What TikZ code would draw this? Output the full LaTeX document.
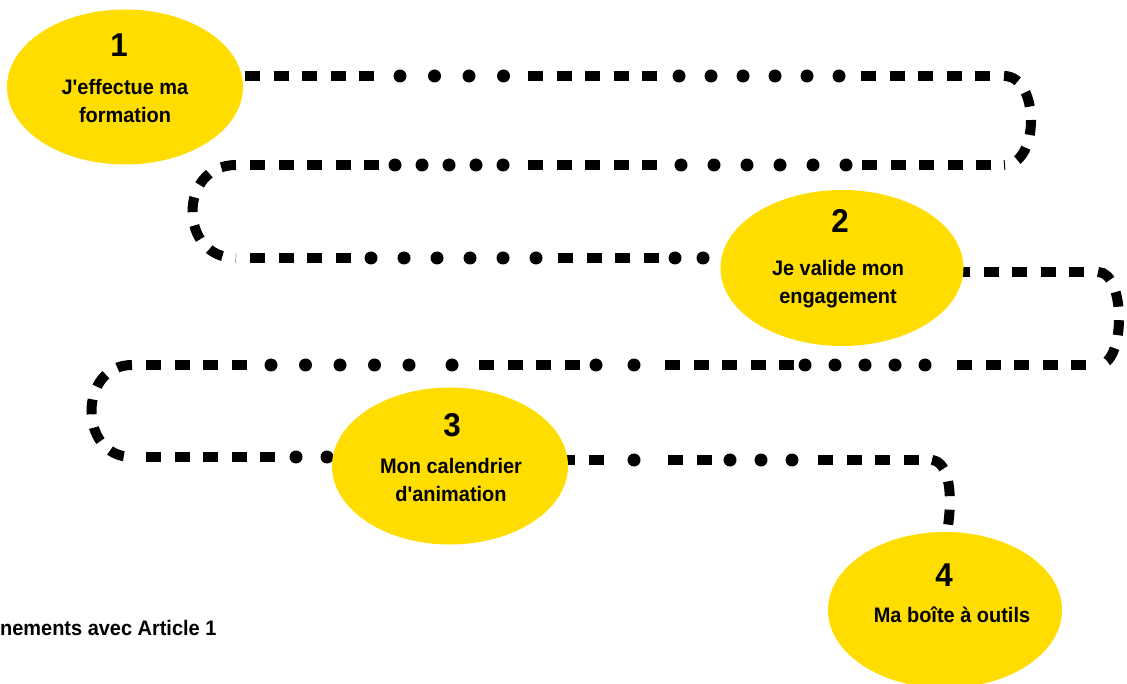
\documentclass[tikz,border=0pt]{standalone}
\usepackage{fontspec}
\setmainfont[FakeStretch=0.95,Ligatures=TeXOff]{Liberation Sans}
\usetikzlibrary{shapes.geometric}
\definecolor{jaune}{RGB}{255,221,0}

\begin{document}
\begin{tikzpicture}[x=1pt,y=-1pt,
  sq/.style={line width=10pt,line cap=butt,dash pattern=on 15pt off 13.5pt},
  etape/.style={ellipse,fill=jaune,inner sep=0pt},
  num/.style={font=\bfseries\fontsize{33}{36}\selectfont},
  lbl/.style={font=\bfseries\fontsize{21}{28}\selectfont,align=center}]
  \clip (0,0) rectangle (1127,684);

  % squares: start / count / row
  \foreach \a/\n/\y in {245/5/76, 528/5/76, 861/5/76,
      862/5/165, 528/5/165, 250/5/165,
      250/4/258, 558/4/258, 955/5/272,
      957/5/365, 665/5/365, 479/4/365, 146/4/365,
      146/5/457, 560/2/460, 668/2/460, 818/4/460}
    \draw[sq] (\a,\y) -- ++({28.5*\n-13.5},0);

  % dots: start / count / pitch / row
  \foreach \a/\n/\p/\y in {400/4/34.5/76, 679/6/32/76,
      681/6/33/165, 395/5/27/165,
      371/6/33/258, 675/2/28/258,
      805/5/30/365, 596/2/38/365, 452/1/0/365, 271/5/34.5/365,
      296/2/31/457, 634/1/0/460, 730/3/31/460}
    \foreach \i in {1,...,\n}
      \fill ({\a+(\i-1)*\p},\y) circle (6.5pt);

  % turns
  \draw[sq] (1004,76) .. controls (1040,76) and (1040,165) .. (1004,165);
  \draw[sq] (236,165) .. controls (178,165) and (178,258) .. (236,258);
  \draw[sq] (1098,272) .. controls (1126,272) and (1126,365) .. (1098,365);
  \draw[sq] (132,365) .. controls (78,365) and (78,457) .. (132,457);
  \coordinate (fin) at (948,526);
  \draw[sq] (932,460) .. controls (948,462) and (953,490) .. (fin);

  \node[etape,minimum width=236pt,minimum height=155pt] (s1) at (125,87) {};
  \node[etape,minimum width=243pt,minimum height=156pt] (s2) at (842,268) {};
  \node[etape,minimum width=236pt,minimum height=157pt] (s3) at (450,466) {};
  \node[etape,minimum width=234pt,minimum height=156pt] (s4) at (945,610) {};

  \node[num] (n1) at (119,45) {1};
  \node[lbl] (l1) at (125,101) {J'effectue ma\\formation};
  \node[num] (n2) at (840,221) {2};
  \node[lbl] (l2) at (838,284) {Je valide mon\\engagement};
  \node[num] (n3) at (452,425) {3};
  \node[lbl] (l3) at (451,480) {Mon calendrier\\d'animation};
  \node[num] (n4) at (944,575) {4};
  \node[lbl] (l4) at (952,615) {Ma boîte à outils};

  \node[lbl,anchor=west,inner sep=0pt] (ab) at (0,628) {nements avec Article 1};
\end{tikzpicture}
\end{document}
